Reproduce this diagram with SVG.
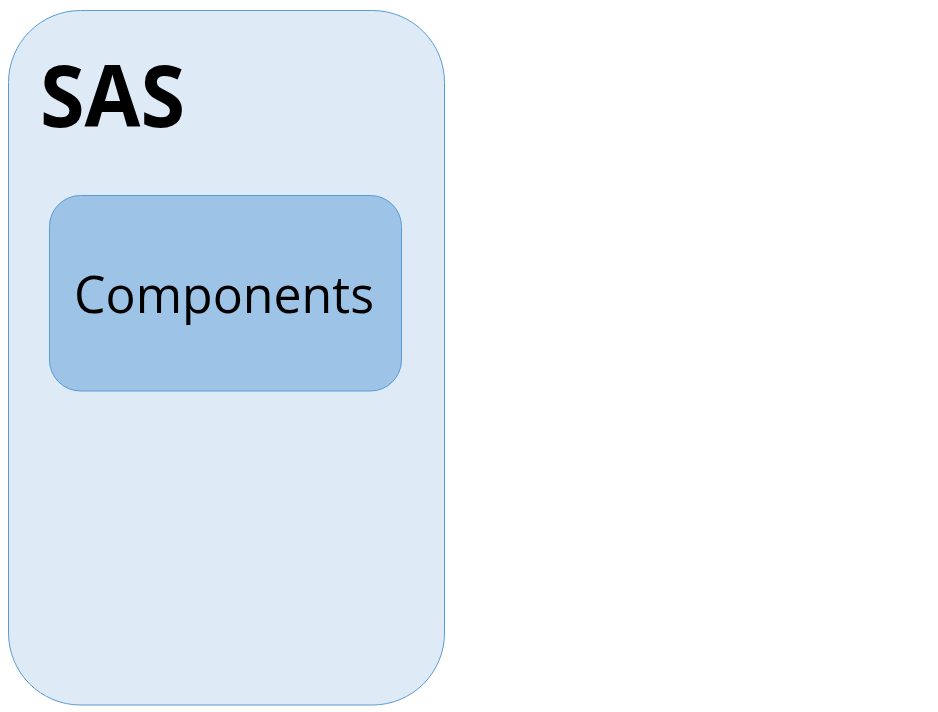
<svg xmlns="http://www.w3.org/2000/svg" width="938" height="712" viewBox="0 0 938 712">
<style>
.box{stroke:#5B9BD5;stroke-width:1}
.title{font-family:"Open Sans","Liberation Sans",sans-serif;font-weight:bold;font-size:86px;fill:#000}
.label{font-family:"Open Sans","Liberation Sans",sans-serif;font-size:52px;fill:#000}
</style>
<rect width="938" height="712" fill="#fff"/>
<g id="sas">
<rect class="box" x="8.5" y="10.5" width="436" height="694.5" rx="72" ry="72" fill="#DEEAF6"/>
<text class="title" x="40" y="127" textLength="145" lengthAdjust="spacingAndGlyphs">SAS</text>
</g>
<g id="components">
<rect class="box" x="49.5" y="195.5" width="352" height="195.5" rx="31" ry="31" fill="#9DC3E6"/>
<text class="label" x="224" y="313" text-anchor="middle" textLength="300" lengthAdjust="spacingAndGlyphs">Components</text>
</g>
<g id="connectors"/>
</svg>
